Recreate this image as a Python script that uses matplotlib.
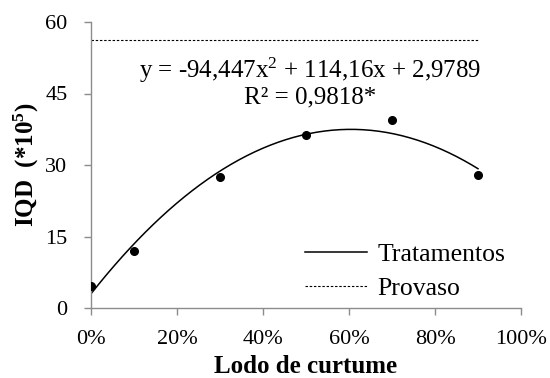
import numpy as np
import matplotlib
matplotlib.use("Agg")
import matplotlib.pyplot as plt

# Data
x_points = [0.0, 0.10, 0.30, 0.50, 0.70, 0.90]
iqd_values = [4.6, 12.0, 27.5, 36.2, 39.4, 27.8]
coef_a, coef_b, coef_c = -94.447, 114.16, 2.9789
provaso_value = 56.2
provaso_x = [0.0, 0.90]
x_ticks = [0.0, 0.2, 0.4, 0.6, 0.8, 1.0]
x_tick_labels = ["0%", "20%", "40%", "60%", "80%", "100%"]
y_ticks = [0, 15, 30, 45, 60]
equation_text = r"y = -94,447x$^{2}$ + 114,16x + 2,9789"
r2_text = "R² = 0,9818*"
legend_labels = ["Tratamentos", "Provaso"]

plt.rcParams['font.family'] = ['Liberation Serif', 'DejaVu Serif']
plt.rcParams['mathtext.fontset'] = 'custom'
plt.rcParams['mathtext.rm'] = 'Liberation Serif'
plt.rcParams['mathtext.it'] = 'Liberation Serif:italic'
plt.rcParams['mathtext.bf'] = 'Liberation Serif:bold'

fig = plt.figure(figsize=(5.5, 3.78), dpi=100)
ax = fig.add_axes([91/550, 1-308/378, 430/550, 286/378])

gray = "#8c8c8c"
xc = np.linspace(0, 0.9, 200)
yc = coef_a * xc**2 + coef_b * xc + coef_c
l1, = ax.plot(xc, yc, color="black", lw=1.1, label=legend_labels[0])
l2, = ax.plot(provaso_x, [provaso_value]*2, color="black", lw=0.8,
              linestyle=(0, (2.2, 1.6)), label=legend_labels[1])
ax.plot(x_points, iqd_values, 'o', color="black", ms=5.5, zorder=3)

ax.set_xlim(0, 1.0)
ax.set_ylim(0, 60)
ax.set_xticks(x_ticks)
ax.set_xticklabels(x_tick_labels)
ax.set_yticks(y_ticks)
for s in ["top", "right"]:
    ax.spines[s].set_visible(False)
for s in ["left", "bottom"]:
    ax.spines[s].set_color(gray)
    ax.spines[s].set_linewidth(1.0)
ax.tick_params(axis='both', direction='out', color=gray, length=5, width=1.0,
               labelsize=16)
ax.tick_params(axis='x', pad=10.5)
ax.tick_params(axis='y', pad=12)

ax.set_xlabel("Lodo de curtume", fontsize=18, fontweight='bold', labelpad=5)
ax.set_ylabel(r"IQD  (*10$^{\mathbf{5}}$)", fontsize=18, fontweight='bold', labelpad=3)

ax.text(0.51, 0.83, equation_text, transform=ax.transAxes, ha='center', va='center',
        fontsize=18)
ax.text(0.51, 0.735, r2_text, transform=ax.transAxes, ha='center', va='center',
        fontsize=18)

leg = ax.legend(handles=[l1, l2], loc='upper left', bbox_to_anchor=(0.498, 0.228),
                frameon=False, fontsize=18.5, borderpad=0, borderaxespad=0,
                handlelength=2.4, handletextpad=0.4, labelspacing=0.45)

fig.savefig("out.png", dpi=100)
